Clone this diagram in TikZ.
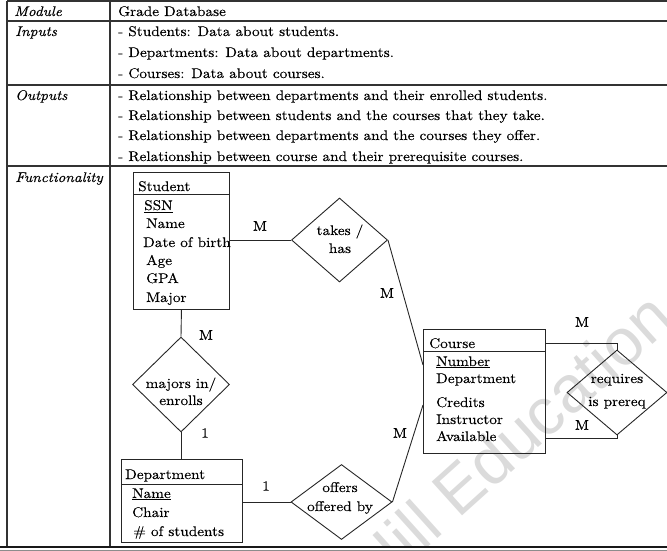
\documentclass[tikz,border=0pt]{standalone}
\usepackage{fontspec}
\setmainfont{lmroman10-regular.otf}[FakeStretch=1.09, FakeBold=0.25, ItalicFont=lmroman10-italic.otf, BoldFont=lmroman10-bold.otf]
\newfontfamily\wmfont{Liberation Sans}
\usetikzlibrary{shapes.geometric}
\tikzset{
  tline/.style={draw=black!80, line width=1.1pt},
  ent/.style={draw=black!85, line width=0.9pt, rectangle, inner sep=0pt, anchor=north west},
  sepl/.style={draw=black!85, line width=0.9pt},
  rel/.style={draw=black!85, line width=0.9pt, diamond, inner sep=0pt},
  conn/.style={draw=black!85, line width=0.9pt},
  txt/.style={anchor=base west, inner sep=0pt, font=\fontsize{14}{16}\selectfont},
  ittxt/.style={anchor=base west, inner sep=0pt, font=\fontsize{14}{16}\selectfont\itshape},
  ctr/.style={anchor=base, inner sep=0pt, font=\fontsize{14}{16}\selectfont},
  lbl/.style={anchor=center, inner sep=0pt, font=\fontsize{14}{16}\selectfont},
  wm/.style={anchor=base east, inner sep=0pt, rotate=42, text=black!14, font=\wmfont\fontsize{66}{70}\selectfont}
}
\begin{document}
\begin{tikzpicture}[x=1pt,y=-1pt]
\useasboundingbox (0,0) rectangle (667,551);
% watermark
\begin{scope}
\clip (0,0) rectangle (667,546);
\node[wm] (wmark) at (677,323) {Hill Education};
\end{scope}
% table
\draw[tline] (7,1) -- (667,1);
\draw[tline] (7,21) -- (667,21);
\draw[tline] (7,85) -- (667,85);
\draw[tline] (7,166) -- (667,166);
\draw[tline] (7,1) -- (7,547);
\draw[tline] (110,1) -- (110,547);
\draw[draw=black!90, line width=1.6pt] (0,547) -- (667,547);
\draw[draw=black!45, line width=0.8pt] (0,550) -- (667,550);
% column 1
\node[ittxt] (tmod) at (14,16) {Module};
\node[ittxt] (tin) at (15,36) {Inputs};
\node[ittxt] (tout) at (15,100) {Outputs};
\node[ittxt] (tfun) at (15,182) {Functionality};
% column 2
\node[txt] (c1) at (118,16) {Grade Database};
\node[txt] (c2) at (118,36) {- Students: Data about students.};
\node[txt] (c3) at (118,57) {- Departments: Data about departments.};
\node[txt] (c4) at (118,78) {- Courses: Data about courses.};
\node[txt] (c5) at (118,100) {- Relationship between departments and their enrolled students.};
\node[txt] (c6) at (118,120) {- Relationship between students and the courses that they take.};
\node[txt] (c7) at (118,140) {- Relationship between departments and the courses they offer.};
\node[txt] (c8) at (118,161) {- Relationship between course and their prerequisite courses.};
% Student entity
\node[ent, minimum width=96pt, minimum height=137pt] (student) at (133,172) {};
\draw[sepl] ([yshift=-22pt]student.north west) -- ([yshift=-22pt]student.north east);
\node[txt] (s0) at (138,191) {Student};
\node[txt] (s1) at (144,210) {\underline{SSN}};
\node[txt] (s2) at (146,228) {Name};
\node[txt] (s3) at (143,247) {Date of birth};
\node[txt] (s4) at (146,265) {Age};
\node[txt] (s5) at (146,283) {GPA};
\node[txt] (s6) at (146,302) {Major};
% Department entity
\node[ent, minimum width=121pt, minimum height=83pt] (dept) at (121,459) {};
\draw[sepl] ([yshift=-25pt]dept.north west) -- ([yshift=-25pt]dept.north east);
\node[txt] (d0) at (125,479) {Department};
\node[txt] (d1) at (132,498) {\underline{Name}};
\node[txt] (d2) at (132,517) {Chair};
\node[txt] (d3) at (133,536) {\# of students};
% Course entity
\node[ent, minimum width=122pt, minimum height=124pt] (course) at (423,329) {};
\draw[sepl] ([yshift=-22pt]course.north west) -- ([yshift=-22pt]course.north east);
\node[txt] (k0) at (429,348) {Course};
\node[txt] (k1) at (436,366) {\underline{Number}};
\node[txt] (k2) at (436,383) {Department};
\node[txt] (k3) at (436,407) {Credits};
\node[txt] (k4) at (436,424) {Instructor};
\node[txt] (k5) at (436,441) {Available};
% relationships
\node[rel, minimum width=96pt, minimum height=84pt] (takes) at (339.5,240) {};
\node[ctr] (t1) at (340,235) {takes /};
\node[ctr] (t2) at (340,253) {has};
\node[rel, minimum width=97pt, minimum height=95pt] (majors) at (181,384.5) {};
\node[ctr] (m1) at (181,388) {majors in/};
\node[ctr] (m2) at (181,405) {enrolls};
\node[rel, minimum width=101pt, minimum height=75pt] (offers) at (341.5,502) {};
\node[ctr] (o1) at (340,492) {offers};
\node[ctr] (o2) at (340,511) {offered by};
\node[rel, minimum width=100pt, minimum height=85pt] (req) at (617,392.5) {};
\node[ctr] (r1) at (617,383) {requires};
\node[ctr] (r2) at (617,406) {is prereq};
% connectors
\draw[conn] (takes.west -| student.east) -- (takes.west);
\draw[conn] (takes.east) -- ([yshift=-36pt]course.north west);
\draw[conn] (student.south) -- (majors.north);
\draw[conn] (majors.south) -- (majors.south |- dept.north);
\draw[conn] (offers.west -| dept.east) -- (offers.west);
\draw[conn] (offers.east) -- ([yshift=-76pt]course.north west);
\draw[conn] ([yshift=-14pt]course.north east) -| (req.north);
\draw[conn] ([yshift=-109pt]course.north east) -| (req.south);
% cardinalities
\node[lbl] (l1) at (260,226) {M};
\node[lbl] (l2) at (387,293) {M};
\node[lbl] (l3) at (206,335) {M};
\node[lbl] (l4) at (205,433) {1};
\node[lbl] (l5) at (266,486) {1};
\node[lbl] (l6) at (400,433) {M};
\node[lbl] (l7) at (582,322) {M};
\node[lbl] (l8) at (582,425) {M};
\end{tikzpicture}
\end{document}
